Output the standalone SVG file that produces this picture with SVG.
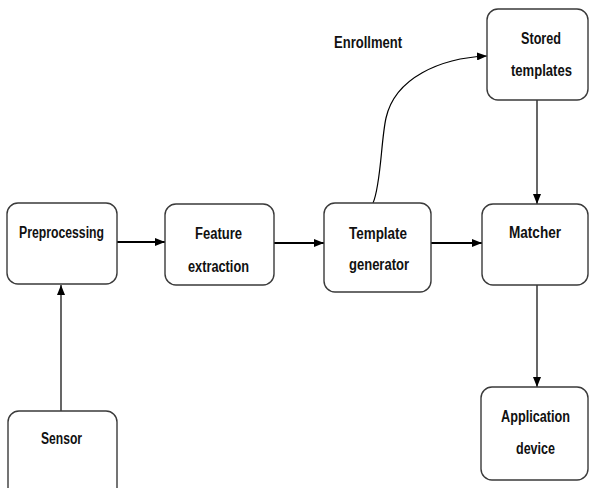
<svg xmlns="http://www.w3.org/2000/svg" width="589" height="488" viewBox="0 0 589 488">
  <defs>
    <marker id="arrow" viewBox="0 0 10 8" refX="10" refY="4" markerWidth="10" markerHeight="8" markerUnits="userSpaceOnUse" orient="auto">
      <path d="M0,0 L10,4 L0,8 Z" fill="#000"/>
    </marker>
  </defs>
  <style>
    .box { fill: #fff; stroke: #3a3a3a; stroke-width: 1.4; }
    .label { font-family: "Liberation Sans", Arial, sans-serif; font-weight: bold; font-size: 16px; fill: #111; text-anchor: middle; }
    .edge { fill: none; stroke: #000; marker-end: url(#arrow); }
    .thick { stroke-width: 1.8; }
    .thin { stroke-width: 1.2; }
  </style>
  <rect width="589" height="488" fill="#fff"/>

  <g id="connectors">
    <line class="edge thick" x1="117" y1="242" x2="165" y2="242"/>
    <line class="edge thick" x1="274" y1="243" x2="324" y2="243"/>
    <line class="edge thick" x1="431" y1="243" x2="482" y2="243"/>
    <line class="edge thin" x1="61" y1="411" x2="61" y2="285"/>
    <line class="edge thin" x1="537" y1="100" x2="537" y2="204"/>
    <line class="edge thin" x1="537" y1="285" x2="537" y2="387"/>
    <path class="edge thin" d="M373,203 C381,185 381,140 386,118 C395,78 440,58 487,56"/>
    <text class="label" x="368" y="48" textLength="68" lengthAdjust="spacingAndGlyphs">Enrollment</text>
  </g>

  <g id="preprocessing">
    <rect class="box" x="7" y="203" width="110" height="81" rx="11"/>
    <text class="label" x="61.5" y="238" textLength="85" lengthAdjust="spacingAndGlyphs">Preprocessing</text>
  </g>

  <g id="feature-extraction">
    <rect class="box" x="165" y="204" width="109" height="81" rx="11"/>
    <text class="label" x="218.5" y="239" textLength="47" lengthAdjust="spacingAndGlyphs">Feature</text>
    <text class="label" x="218.5" y="272" textLength="61" lengthAdjust="spacingAndGlyphs">extraction</text>
  </g>

  <g id="template-generator">
    <rect class="box" x="324" y="203" width="107" height="89" rx="11"/>
    <text class="label" x="378" y="239" textLength="58" lengthAdjust="spacingAndGlyphs">Template</text>
    <text class="label" x="379" y="270" textLength="60" lengthAdjust="spacingAndGlyphs">generator</text>
  </g>

  <g id="matcher">
    <rect class="box" x="482" y="204" width="106" height="81" rx="11"/>
    <text class="label" x="535" y="238" textLength="52" lengthAdjust="spacingAndGlyphs">Matcher</text>
  </g>

  <g id="stored-templates">
    <rect class="box" x="487" y="9" width="101" height="91" rx="11"/>
    <text class="label" x="541" y="44" textLength="40" lengthAdjust="spacingAndGlyphs">Stored</text>
    <text class="label" x="541.5" y="76" textLength="61" lengthAdjust="spacingAndGlyphs">templates</text>
  </g>

  <g id="sensor">
    <rect class="box" x="8" y="411" width="109" height="90" rx="11"/>
    <text class="label" x="61.5" y="444" textLength="41" lengthAdjust="spacingAndGlyphs">Sensor</text>
  </g>

  <g id="application-device">
    <rect class="box" x="481" y="387" width="107" height="93" rx="11"/>
    <text class="label" x="535.5" y="422" textLength="69" lengthAdjust="spacingAndGlyphs">Application</text>
    <text class="label" x="535.5" y="454" textLength="39" lengthAdjust="spacingAndGlyphs">device</text>
  </g>
</svg>
